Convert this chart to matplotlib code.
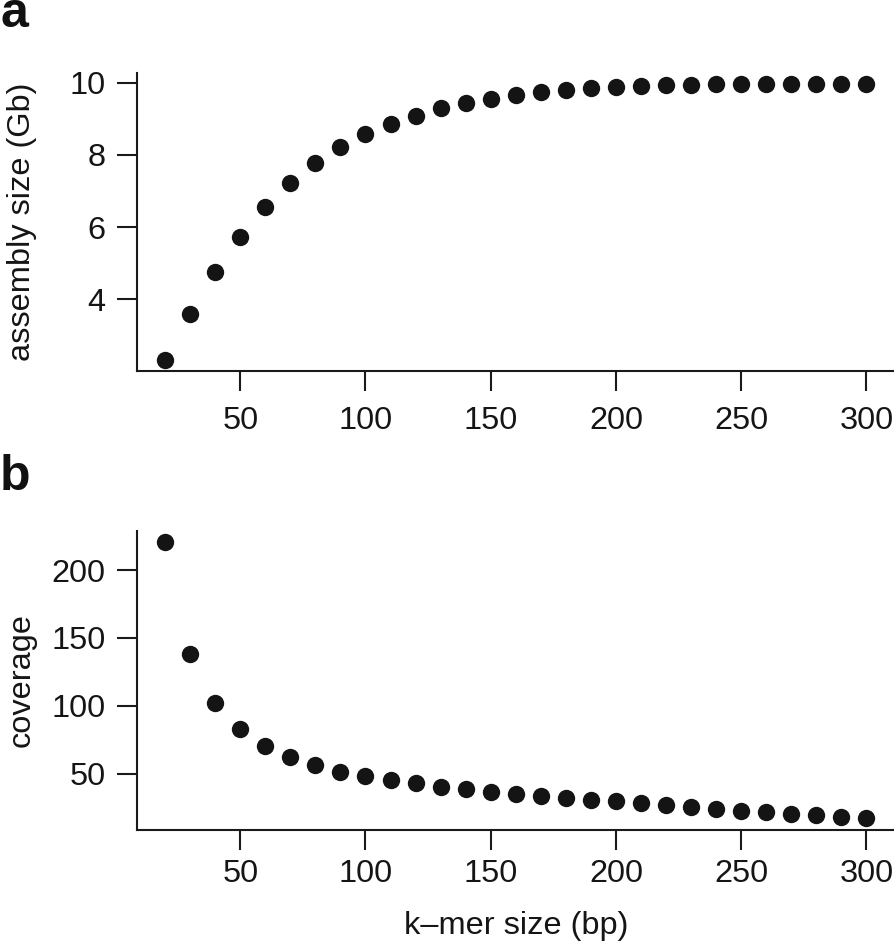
import matplotlib
matplotlib.use("Agg")
import matplotlib.pyplot as plt

plt.rcParams['font.family'] = ['Liberation Sans', 'DejaVu Sans']

kmer = [20, 30, 40, 50, 60, 70, 80, 90, 100, 110, 120, 130, 140, 150, 160,
        170, 180, 190, 200, 210, 220, 230, 240, 250, 260, 270, 280, 290, 300]
assembly_gb = [2.31, 3.58, 4.74, 5.73, 6.56, 7.23, 7.77, 8.21, 8.57, 8.86,
               9.09, 9.30, 9.44, 9.56, 9.66, 9.74, 9.81, 9.85, 9.89, 9.92,
               9.94, 9.95, 9.96, 9.97, 9.97, 9.97, 9.98, 9.98, 9.98]
coverage = [220.6, 138.0, 102.5, 82.8, 70.6, 62.2, 56.6, 51.7, 48.5, 45.6,
            43.1, 40.7, 38.7, 37.0, 35.3, 33.8, 32.4, 30.9, 29.7, 28.4,
            27.0, 25.5, 24.3, 23.0, 21.8, 20.6, 19.4, 18.4, 17.2]

xticks = [50, 100, 150, 200, 250, 300]
yticks_a = [4, 6, 8, 10]
yticks_b = [50, 100, 150, 200]

W, H = 895, 951
fig = plt.figure(figsize=(W / 100, H / 100), dpi=100)

FS = 23.4
DOT = '#141414'
LINE = '#1a1a1a'


def px_axes(left, top, right, bottom):
    return [left / W, 1 - bottom / H, (right - left) / W, (bottom - top) / H]


def style(ax, xpad):
    for s in ('top', 'right'):
        ax.spines[s].set_visible(False)
    for s in ('left', 'bottom'):
        ax.spines[s].set_linewidth(1.5)
        ax.spines[s].set_color(LINE)
    ax.tick_params(axis='both', direction='out', length=14.4, width=1.5,
                   color=LINE, labelsize=FS, labelcolor='#151515')
    ax.tick_params(axis='y', pad=8.4)
    ax.tick_params(axis='x', pad=xpad)
    ax.margins(0.04)


ax1 = fig.add_axes(px_axes(137, 72.6, 894.5, 371))
ax1.plot(kmer, assembly_gb, 'o', color=DOT, markersize=12.5, markeredgewidth=0)
style(ax1, 11)
ax1.set_xticks(xticks)
ax1.set_yticks(yticks_a)
ax1.set_ylabel('assembly size (Gb)', fontsize=FS, color='#151515')
ax1.yaxis.set_label_coords(-0.132, 0.5)

ax2 = fig.add_axes(px_axes(137, 531, 894.5, 829.5))
ax2.plot(kmer, coverage, 'o', color=DOT, markersize=12.5, markeredgewidth=0)
style(ax2, 7)
ax2.set_xticks(xticks)
ax2.set_yticks(yticks_b)
ax2.set_ylabel('coverage', fontsize=FS, color='#151515')
ax2.yaxis.set_label_coords(-0.132, 0.5)
ax2.set_xlabel('k\u2013mer size (bp)', fontsize=FS, color='#151515')
ax2.xaxis.set_label_coords(0.5, -0.273)

fig.text(0.0, 1 - 27 / H, 'a', fontsize=36, fontweight='bold',
         ha='left', va='baseline', color='#111111')
fig.text(0.0, 1 - 490 / H, 'b', fontsize=36, fontweight='bold',
         ha='left', va='baseline', color='#111111')

fig.savefig('out.png', dpi=100, facecolor='white')
